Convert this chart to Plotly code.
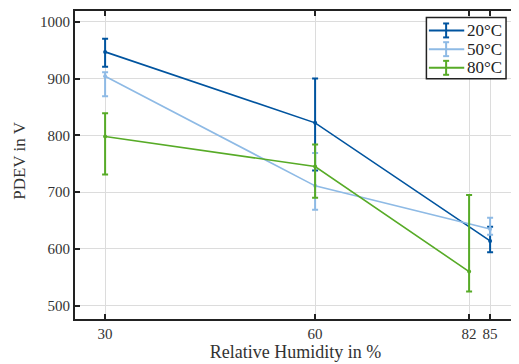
import plotly.graph_objects as go

# Data
humidity_20 = [30, 60, 85]
pdev_20 = [947, 822, 614]
upper_20 = [970, 900, 639]
lower_20 = [921, 738, 594]

humidity_50 = [30, 60, 85]
pdev_50 = [904, 711, 635]
upper_50 = [911, 769, 655]
lower_50 = [869, 669, 625]

humidity_80 = [30, 60, 82]
pdev_80 = [798, 745, 560]
upper_80 = [839, 784, 695]
lower_80 = [731, 690, 525]

x_ticks = [30, 60, 82, 85]
y_ticks = [500, 600, 700, 800, 900, 1000]

series = [
    ("20°C", humidity_20, pdev_20, upper_20, lower_20, "#00549F"),
    ("50°C", humidity_50, pdev_50, upper_50, lower_50, "#8EBAE5"),
    ("80°C", humidity_80, pdev_80, upper_80, lower_80, "#57AB27"),
]

FONT = "Liberation Serif, DejaVu Serif, serif"
W, H = 511, 356
ML, MR, MT, MB = 67, 1, 2, 45
PW, PH = W - ML - MR, H - MT - MB
OFF = 8  # page body offset


def px(x):
    return (x - OFF - ML) / PW


def py(y):
    return (MT + PH - (y - OFF)) / PH


fig = go.Figure()
for name, x, y, up, lo, col in series:
    fig.add_trace(go.Scatter(
        x=x, y=y, mode="lines+markers", name=name, showlegend=False,
        line=dict(color=col, width=1.6),
        marker=dict(color=col, size=4),
        error_y=dict(type="data", symmetric=False,
                     array=[u - v for u, v in zip(up, y)],
                     arrayminus=[v - l for v, l in zip(y, lo)],
                     color=col, thickness=2, width=3),
    ))

axis_common = dict(
    showline=True, linecolor="#222222", linewidth=2, mirror="allticks",
    ticks="inside", ticklen=5, tickwidth=1.5, tickcolor="#222222",
    showgrid=True, gridcolor="#dcdcdc", gridwidth=1.2, zeroline=False,
    tickfont=dict(family=FONT, size=15, color="#333333"),
)
fig.update_xaxes(range=[25.7, 88.7], tickvals=x_ticks,
                 title=dict(text="Relative Humidity in %", font=dict(family=FONT, size=18, color="#333333"), standoff=2),
                 **axis_common)
fig.update_yaxes(range=[476.5, 1019], tickvals=y_ticks, **axis_common)

# Manual legend with error-bar glyphs
shapes = [dict(type="rect", xref="paper", yref="paper",
               x0=px(428), x1=px(508), y0=py(78), y1=py(16.5),
               fillcolor="white", line=dict(color="#222222", width=1.5), layer="above")]
annotations = [dict(xref="paper", yref="paper", x=px(19), y=py(160),
                    xanchor="center", yanchor="middle", showarrow=False, textangle=-90,
                    text="PDEV in V", font=dict(family=FONT, size=17, color="#333333"))]
item_y = [29.5, 48.3, 67]
for (name, x, y, up, lo, col), iy in zip(series, item_y):
    shapes.append(dict(type="line", xref="paper", yref="paper",
                       x0=px(430.5), x1=px(466), y0=py(iy), y1=py(iy),
                       line=dict(color=col, width=2), layer="above"))
    shapes.append(dict(type="line", xref="paper", yref="paper",
                       x0=px(447.8), x1=px(447.8), y0=py(iy - 7), y1=py(iy + 7),
                       line=dict(color=col, width=2), layer="above"))
    for dy in (-7, 7):
        shapes.append(dict(type="line", xref="paper", yref="paper",
                           x0=px(444.8), x1=px(450.8), y0=py(iy + dy), y1=py(iy + dy),
                           line=dict(color=col, width=2), layer="above"))
    annotations.append(dict(xref="paper", yref="paper", x=px(466.5), y=py(iy),
                            xanchor="left", yanchor="middle", showarrow=False,
                            text=name, font=dict(family=FONT, size=17, color="#222222")))

fig.update_layout(
    width=W, height=H,
    margin=dict(l=ML, r=MR, t=MT, b=MB),
    plot_bgcolor="white", paper_bgcolor="white",
    showlegend=False,
    shapes=shapes, annotations=annotations,
)

fig.write_html("out.html")
